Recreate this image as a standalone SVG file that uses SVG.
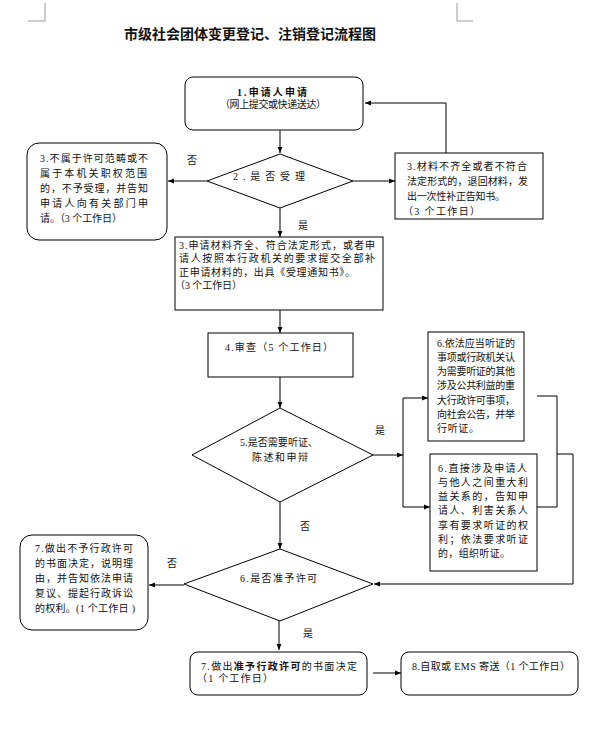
<svg xmlns="http://www.w3.org/2000/svg" width="595" height="733" viewBox="0 0 595 733">
<style>
text{font-family:"Liberation Serif","Noto Sans CJK SC",serif;font-size:10px;fill:#111}
.t{font-family:"Noto Sans CJK SC",sans-serif;font-size:14px;font-weight:bold;text-anchor:middle}
.b{font-weight:bold}
.m{text-anchor:middle}
.box{fill:#fff;stroke:#000;stroke-width:1}
.ln{fill:none;stroke:#000;stroke-width:1}
.crop{fill:none;stroke:#999;stroke-width:1}
</style>
<defs>
<marker id="ah" viewBox="0 0 10 10" refX="10" refY="5" markerWidth="7" markerHeight="6" markerUnits="userSpaceOnUse" orient="auto">
<path d="M0,1 L10,5 L0,9 z" fill="#000"/>
</marker>
</defs>
<rect width="595" height="733" fill="#fff"/>
<path class="crop" d="M45,3 V21 H28 M457,3 V21 H473"/>
<text class="t" x="250" y="39">市级社会团体变更登记、注销登记流程图</text>

<g id="connectors">
<path class="ln" d="M280,130 V153" marker-end="url(#ah)"/>
<path class="ln" d="M446,153 V103 H365" marker-end="url(#ah)"/>
<path class="ln" d="M207,181 H168" marker-end="url(#ah)"/>
<path class="ln" d="M353,181 H395" marker-end="url(#ah)"/>
<path class="ln" d="M280,208 V237" marker-end="url(#ah)"/>
<path class="ln" d="M280,310 V333" marker-end="url(#ah)"/>
<path class="ln" d="M280,377 V408" marker-end="url(#ah)"/>
<path class="ln" d="M373,455 H403" marker-end="url(#ah)"/>
<path class="ln" d="M403,398 V507"/>
<path class="ln" d="M403,398 H428" marker-end="url(#ah)"/>
<path class="ln" d="M403,507 H430" marker-end="url(#ah)"/>
<path class="ln" d="M537,396 H557 V507 H537"/>
<path class="ln" d="M557,454 H573 V584 H374" marker-end="url(#ah)"/>
<path class="ln" d="M280,502 V549" marker-end="url(#ah)"/>
<path class="ln" d="M184,585 H149" marker-end="url(#ah)"/>
<path class="ln" d="M279,621 V650" marker-end="url(#ah)"/>
<path class="ln" d="M373,673 H401" marker-end="url(#ah)"/>
<text class="m" x="192" y="163.5">否</text>
<text class="m" x="303" y="228.5">是</text>
<text class="m" x="380" y="433.5">是</text>
<text class="m" x="305" y="529.5">否</text>
<text class="m" x="172" y="566.5">否</text>
<text class="m" x="308" y="636.5">是</text>
</g>

<g id="n1">
<rect class="box" x="185" y="77" width="178" height="53" rx="8"/>
<text class="b" x="237" y="96" textLength="70">1.申请人申请</text>
<text x="220" y="108" textLength="106">（网上提交或快递送达）</text>
</g>

<g id="d2">
<polygon class="box" points="280,154 353,181 280,208 207,181"/>
<text x="233" y="179.5" textLength="72">2.是否受理</text>
</g>

<g id="n3a">
<rect class="box" x="27" y="143" width="140" height="97" rx="12"/>
<text x="40" y="162" textLength="108">3.不属于许可范畴或不</text>
<text x="40" y="177" textLength="107">属于本机关职权范围</text>
<text x="40" y="192" textLength="108">的，不予受理，并告知</text>
<text x="40" y="207" textLength="108">申请人向有关部门申</text>
<text x="40" y="222" textLength="82">请。（3 个工作日）</text>
</g>

<g id="n3b">
<rect class="box" x="395" y="153" width="148" height="66"/>
<text x="407" y="170" textLength="120">3.材料不齐全或者不符合</text>
<text x="407" y="185" textLength="121">法定形式的，退回材料，发</text>
<text x="407" y="200" textLength="98">出一次性补正告知书。</text>
<text x="403" y="215" textLength="77">（3 个工作日）</text>
</g>

<g id="n3c">
<rect class="box" x="175" y="237" width="208" height="73"/>
<text x="179" y="249" textLength="196">3.申请材料齐全、符合法定形式，或者申</text>
<text x="179" y="262" textLength="196">请人按照本行政机关的要求提交全部补</text>
<text x="179" y="276" textLength="176">正申请材料的，出具《受理通知书》。</text>
<text x="175" y="289" textLength="67">（3 个工作日）</text>
</g>

<g id="n4">
<rect class="box" x="208" y="333" width="145" height="44"/>
<text x="225" y="351" textLength="108">4.审查（5 个工作日）</text>
</g>

<g id="d5">
<polygon class="box" points="280,408 373,455 280,502 192,455"/>
<text x="240" y="445.5" textLength="78">5.是否需要听证、</text>
<text x="252" y="460.5" textLength="56">陈述和申辩</text>
</g>

<g id="n6a">
<rect class="box" x="428" y="332" width="96" height="109"/>
<text x="437" y="346.5" textLength="78">6.依法应当听证的</text>
<text x="437" y="360.8" textLength="78">事项或行政机关认</text>
<text x="437" y="375.1" textLength="78">为需要听证的其他</text>
<text x="437" y="389.4" textLength="78">涉及公共利益的重</text>
<text x="437" y="403.7" textLength="78">大行政许可事项，</text>
<text x="437" y="418" textLength="78">向社会公告，并举</text>
<text x="437" y="432.3" textLength="42">行听证。</text>
</g>

<g id="n6b">
<rect class="box" x="430" y="454" width="107" height="117"/>
<text x="438" y="471.5" textLength="89">6.直接涉及申请人</text>
<text x="438" y="485.8" textLength="90">与他人之间重大利</text>
<text x="438" y="500.1" textLength="90">益关系的，告知申</text>
<text x="438" y="514.4" textLength="90">请人、利害关系人</text>
<text x="438" y="528.7" textLength="90">享有要求听证的权</text>
<text x="438" y="543" textLength="90">利；依法要求听证</text>
<text x="438" y="557.3" textLength="72">的，组织听证。</text>
</g>

<g id="d6">
<polygon class="box" points="280,549 373,584 280,621 184,584"/>
<text x="240" y="581.5" textLength="77">6.是否准予许可</text>
</g>

<g id="n7a">
<rect class="box" x="20" y="535" width="128" height="95" rx="12"/>
<text x="35" y="551.5" textLength="98">7.做出不予行政许可</text>
<text x="35" y="566.5" textLength="98">的书面决定，说明理</text>
<text x="35" y="581.5" textLength="98">由，并告知依法申请</text>
<text x="35" y="596.5" textLength="98">复议、提起行政诉讼</text>
<text x="35" y="612" textLength="100">的权利。(1 个工作日 )</text>
</g>

<g id="n7b">
<rect class="box" x="190" y="652" width="177" height="43" rx="8"/>
<text x="201" y="669.5" textLength="156">7.做出<tspan class="b">准予行政许可</tspan>的书面决定</text>
<text x="197" y="682" textLength="76">（1 个工作日）</text>
</g>

<g id="n8">
<rect class="box" x="401" y="652" width="177" height="43" rx="8"/>
<text x="412" y="669.5" textLength="158">8.自取或 EMS 寄送（1 个工作日）</text>
</g>
</svg>
